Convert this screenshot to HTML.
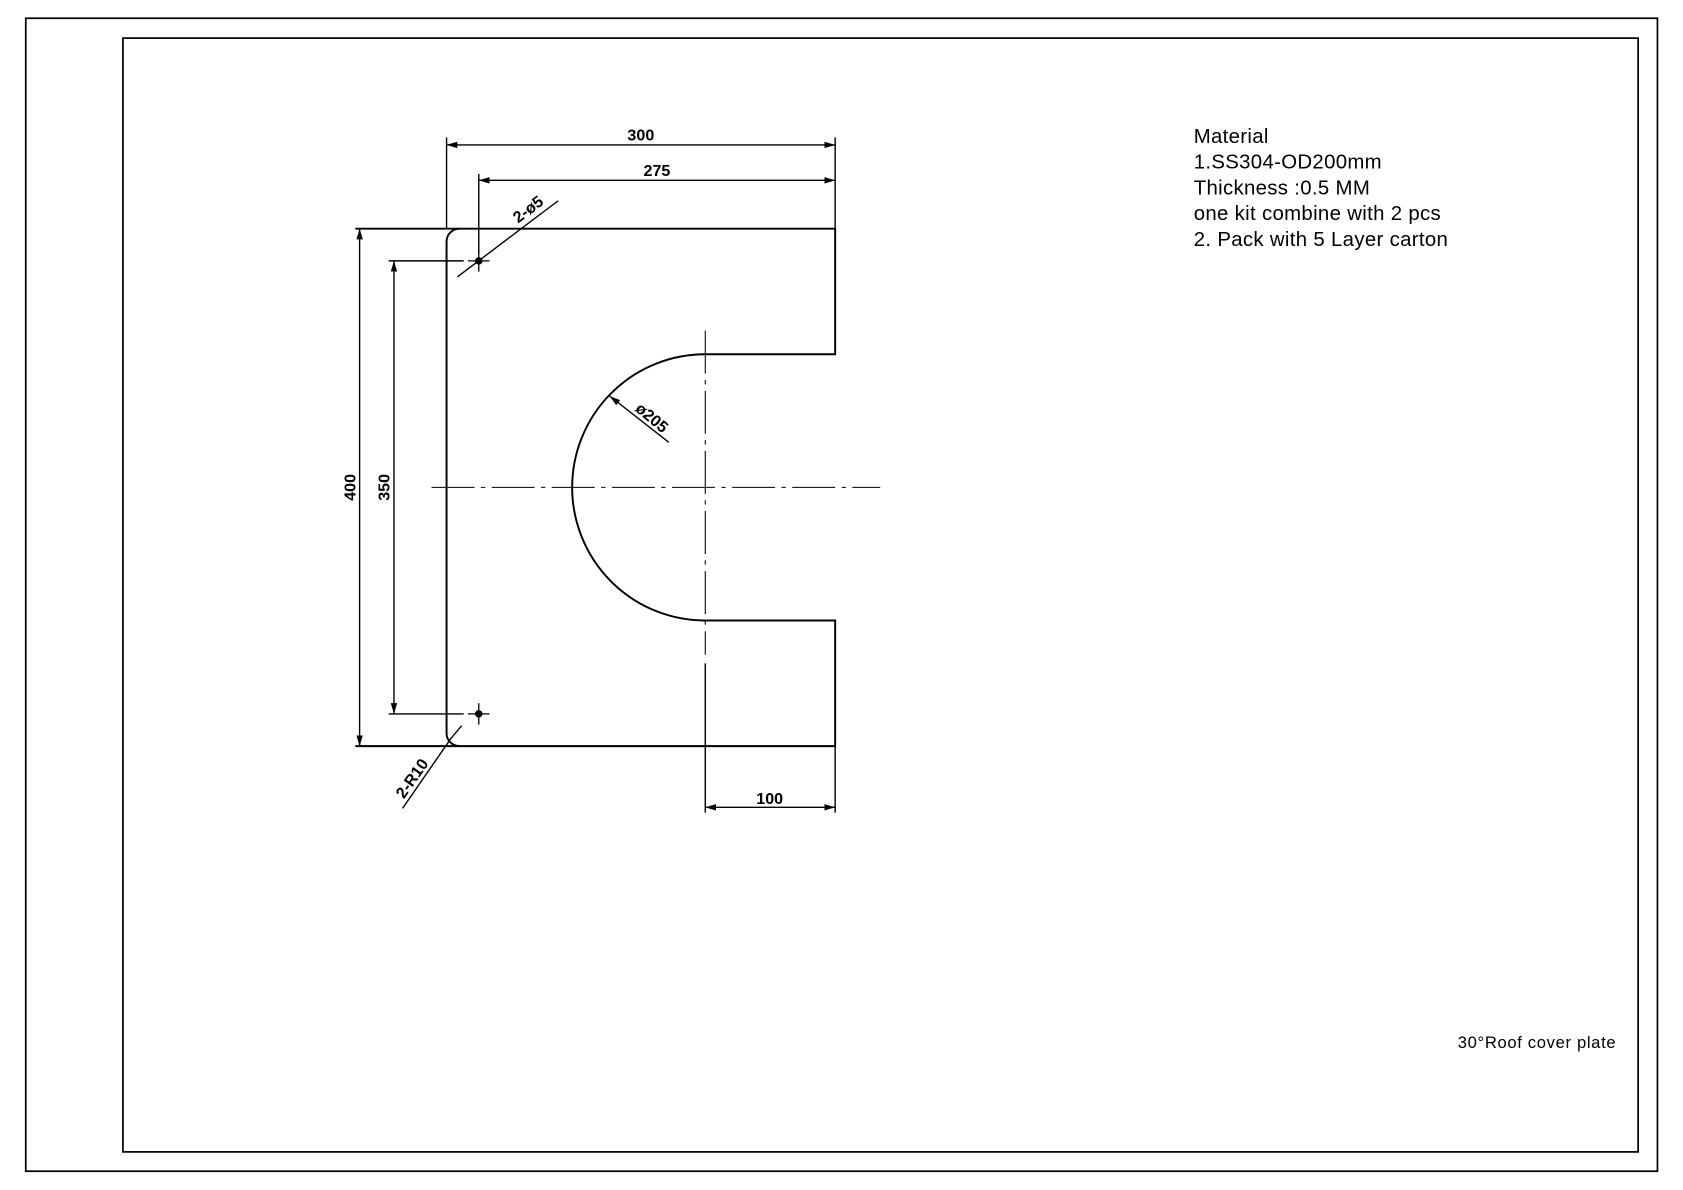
<!DOCTYPE html>
<html><head><meta charset="utf-8"><style>
html,body{margin:0;padding:0;background:#fff;}
svg{display:block;}
</style></head><body>
<svg width="1683" height="1190" viewBox="0 0 1567.8 1108.5" preserveAspectRatio="none" xmlns="http://www.w3.org/2000/svg">
<defs>
<marker id="a" viewBox="0 0 10 6" refX="10" refY="3" markerWidth="10" markerHeight="6" orient="auto-start-reverse" markerUnits="userSpaceOnUse"><path d="M0,0 L10,3 L0,6 z" fill="#000"/></marker>
</defs>
<g fill="none" stroke="#000">
<rect x="24" y="17" width="1520" height="1074" stroke-width="1.6"/>
<rect x="114.5" y="35.5" width="1411.5" height="1037.5" stroke-width="1.6"/>
<path d="M331,213 H778 V330 H657 A124,124 0 0 0 657,578 H778 V695 H331" stroke-width="1.8"/>
<path d="M428,213 A12,12 0 0 0 416,225 V683 A12,12 0 0 0 428,695" stroke-width="1.8"/>
<path d="M402,454 H820" stroke-width="1" stroke-dasharray="40,6,4,6"/>
<path d="M657,308 V610" stroke-width="1" stroke-dasharray="40,6,4,6"/>
<path d="M657,618 V757 M778,695 V757" stroke-width="1.3"/>
<circle cx="446" cy="243" r="3" fill="#000"/>
<circle cx="446" cy="665" r="3" fill="#000"/>
<path d="M436,243 H456 M446,233 V253 M436,665 H456 M446,655 V675" stroke-width="1.2"/>
<path d="M416,128 V213 M778,128 V213 M446,162 V236" stroke-width="1.3"/>
<path d="M362,243 H432 M362,665 H432" stroke-width="1.3"/>
<path d="M416,135 H778" stroke-width="1.3" marker-start="url(#a)" marker-end="url(#a)"/>
<path d="M446,168 H778" stroke-width="1.3" marker-start="url(#a)" marker-end="url(#a)"/>
<path d="M335,213 V695" stroke-width="1.3" marker-start="url(#a)" marker-end="url(#a)"/>
<path d="M367,243 V665" stroke-width="1.3" marker-start="url(#a)" marker-end="url(#a)"/>
<path d="M657,752 H778" stroke-width="1.3" marker-start="url(#a)" marker-end="url(#a)"/>
<path d="M426,258 L520,187" stroke-width="1.3"/>
<path d="M623,412 L568,369" stroke-width="1.3" marker-end="url(#a)"/>
<path d="M375,753 L420,688 M420,688 L430,676" stroke-width="1.3"/>
</g>
<g font-family="Liberation Sans, sans-serif" font-size="15" font-weight="bold" fill="#000" text-anchor="middle">
<text x="597" y="131">300</text>
<text x="612" y="164">275</text>
<text x="717" y="749">100</text>
<text transform="translate(331,454) rotate(-90)">400</text>
<text transform="translate(363,454) rotate(-90)">350</text>
<text transform="translate(495,199) rotate(-37)">2-ø5</text>
<text transform="translate(604,393) rotate(40)">ø205</text>
<text transform="translate(388,728) rotate(-55)">2-R10</text>
</g>
<g font-family="Liberation Sans, sans-serif" font-size="19" letter-spacing="0.3" fill="#000">
<text x="1112" y="133">Material</text>
<text x="1112" y="157">1.SS304-OD200mm</text>
<text x="1112" y="181">Thickness :0.5 MM</text>
<text x="1112" y="205">one kit combine with 2 pcs</text>
<text x="1112" y="229">2. Pack with 5 Layer carton</text>
</g>
<text x="1358" y="976" font-family="Liberation Sans, sans-serif" font-size="15.5" letter-spacing="0.6" fill="#000">30°Roof cover plate</text>
</svg>
</body></html>
